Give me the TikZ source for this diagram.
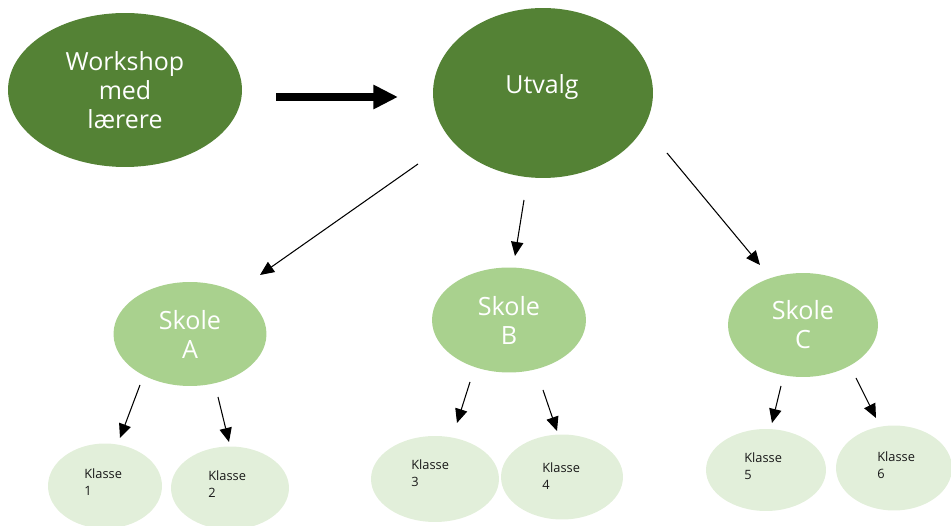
\documentclass[tikz,border=0pt]{standalone}
\usepackage{fontspec}
\setmainfont{Open Sans}
\usetikzlibrary{shapes.geometric,arrows.meta}
\definecolor{darkg}{HTML}{548235}
\definecolor{midg}{HTML}{A9D18E}
\definecolor{lightg}{HTML}{E2EFDA}
\begin{document}
\begin{tikzpicture}[x=0.02cm,y=-0.02cm,
  ell/.style={ellipse,inner sep=0pt,draw=none},
  bigell/.style={ell,fill=darkg,text=white,font=\fontsize{14.2pt}{16.5pt}\selectfont,align=center},
  skole/.style={ell,fill=midg,text=white,font=\fontsize{14.3pt}{16.5pt}\selectfont,align=center},
  klasse/.style={ell,fill=lightg},
  ktext/.style={anchor=west,inner sep=0pt,align=left,font=\fontsize{7.3pt}{9.6pt}\selectfont,text=black!90},
  thin/.style={draw=black,line width=0.6pt,-{Triangle[length=8pt,width=7pt]}},
  thick/.style={draw=black,line width=4pt,-{Triangle[length=14pt,width=13pt]}}]
\useasboundingbox (0,0) rectangle (951,526);

\node[bigell,minimum width=4.68cm,minimum height=3.08cm] (ws) at (125,90) {Workshop\\med\\lærere};
\node[bigell,minimum width=4.4cm,minimum height=3.4cm] (ut) at (543,93) {};
\node[bigell] (utt) at (542,87) {Utvalg};

\node[skole,minimum width=3.06cm,minimum height=2.08cm] (sa) at (190,334) {Skole\\A};
\node[skole,minimum width=3.08cm,minimum height=2.1cm] (sb) at (509,320) {Skole\\B};
\node[skole,minimum width=3.0cm,minimum height=2.08cm] (sc) at (803,325) {Skole\\C};

\node[klasse,minimum width=2.28cm,minimum height=1.7cm] (k1) at (105,486) {};
\node[klasse,minimum width=2.36cm,minimum height=1.66cm] (k2) at (230,488) {};
\node[klasse,minimum width=2.56cm,minimum height=1.72cm] (k3) at (435,479) {};
\node[klasse,minimum width=2.44cm,minimum height=1.7cm] (k4) at (562,477) {};
\node[klasse,minimum width=2.4cm,minimum height=1.64cm] (k5) at (766,470) {};
\node[klasse,minimum width=2.32cm,minimum height=1.7cm] (k6) at (894,468) {};

\node[ktext] (t1) at (84,482) {Klasse\\1};
\node[ktext] (t2) at (208,484) {Klasse\\2};
\node[ktext] (t3) at (411,473) {Klasse\\3};
\node[ktext] (t4) at (542,476) {Klasse\\4};
\node[ktext] (t5) at (744,466) {Klasse\\5};
\node[ktext] (t6) at (877,465) {Klasse\\6};

% arrow endpoints
\coordinate (w1) at (276,97); \coordinate (w2) at (398,97);
\coordinate (u1a) at (418,164); \coordinate (u1b) at (260,275);
\coordinate (u2a) at (524,200); \coordinate (u2b) at (515,256);
\coordinate (u3a) at (667,153); \coordinate (u3b) at (760,265);
\coordinate (a1a) at (140,385); \coordinate (a1b) at (120,438);
\coordinate (a2a) at (218,397); \coordinate (a2b) at (229,442);
\coordinate (b1a) at (470,382); \coordinate (b1b) at (457,423);
\coordinate (b2a) at (543,390); \coordinate (b2b) at (557,431);
\coordinate (c1a) at (781,386); \coordinate (c1b) at (772,423);
\coordinate (c2a) at (856,378); \coordinate (c2b) at (876,418);

\draw[thick] (w1) -- (w2);
\draw[thin] (u1a) -- (u1b);
\draw[thin] (u2a) -- (u2b);
\draw[thin] (u3a) -- (u3b);
\draw[thin] (a1a) -- (a1b);
\draw[thin] (a2a) -- (a2b);
\draw[thin] (b1a) -- (b1b);
\draw[thin] (b2a) -- (b2b);
\draw[thin] (c1a) -- (c1b);
\draw[thin] (c2a) -- (c2b);
\end{tikzpicture}
\end{document}
